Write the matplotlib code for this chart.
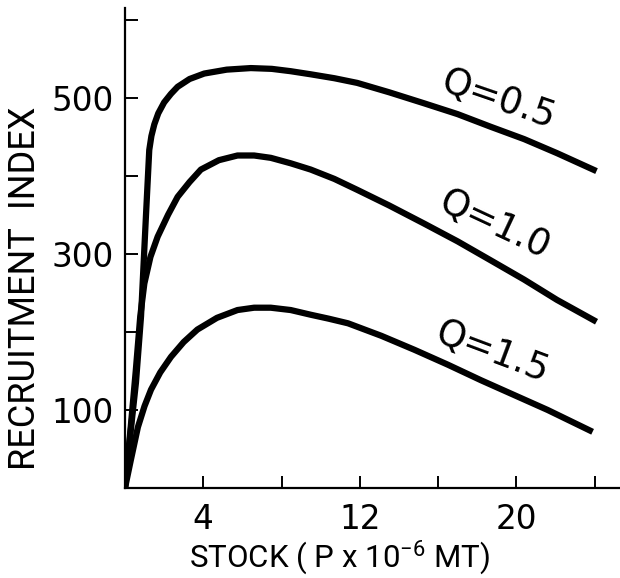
#Recruitment vs stock curves for three Q values
import matplotlib
matplotlib.use('Agg')
import matplotlib.pyplot as plt

plt.rcParams['font.family'] = ['Roboto', 'DejaVu Sans']
plt.rcParams['mathtext.fontset'] = 'custom'
plt.rcParams['mathtext.rm'] = 'Roboto'

#Values (stock, recruitment index)
stock_q05 = [0, 0.3, 0.56, 0.82, 1.07, 1.24, 1.35, 1.5, 1.7, 2.0, 2.35, 2.69, 3.3, 4.05, 5.2, 6.43,
             7.5, 8.47, 9.5, 10.7, 11.87, 13.5, 15.27, 17.0, 18.67, 20.4, 22.08, 24.1]
recr_q05 = [0, 75, 135, 220, 348, 433, 451, 466, 480, 494, 505, 514, 524, 531, 536, 538,
            537, 534, 530, 525, 519, 507, 493, 479, 463, 447, 429, 406]

stock_q10 = [0, 0.3, 0.55, 0.78, 0.99, 1.3, 1.67, 2.2, 2.69, 3.3, 3.88, 4.8, 5.75, 6.6, 7.45,
             8.47, 9.49, 10.7, 11.87, 13.5, 15.27, 17.0, 18.67, 20.4, 22.08, 24.1]
recr_q10 = [0, 80, 150, 220, 262, 296, 322, 350, 373, 392, 408, 420, 426, 426, 423,
            416, 408, 396, 382, 362, 339, 316, 292, 267, 241, 213]

stock_q15 = [0, 0.3, 0.66, 1.0, 1.33, 1.8, 2.35, 3.0, 3.7, 4.7, 5.75, 6.6, 7.45, 8.47, 9.49,
             10.4, 11.4, 13.1, 14.8, 16.5, 18.2, 19.9, 21.6, 23.9]
recr_q15 = [0, 36, 78, 105, 126, 148, 168, 187, 203, 218, 228, 231, 231, 228, 222,
            217, 211, 195, 177, 158, 138, 119, 100, 72]

curve_labels = ['Q=0.5', 'Q=1.0', 'Q=1.5']
label_x = [19.1, 18.9, 18.8]
label_y = [497, 337, 174]
label_rot = [-19, -25, -20.5]

fig = plt.figure(figsize=(6.2, 5.78), dpi=100)
ax = fig.add_axes([0.2016, 0.1557, 0.7984, 0.8305])

for xs, ys in [(stock_q05, recr_q05), (stock_q10, recr_q10), (stock_q15, recr_q15)]:
    ax.plot(xs, ys, color='black', lw=4.5, solid_joinstyle='round', solid_capstyle='butt')

for txt, lx, ly, rot in zip(curve_labels, label_x, label_y, label_rot):
    ax.text(lx, ly, txt, fontsize=26.5, rotation=rot, ha='center', va='center',
            family='DejaVu Sans', rotation_mode='anchor')

ax.set_xlim(0, 25.3)
ax.set_ylim(0, 615)
ax.spines['top'].set_visible(False)
ax.spines['right'].set_visible(False)
ax.spines['left'].set_linewidth(1.6)
ax.spines['bottom'].set_linewidth(1.6)

ax.set_xticks([4, 8, 12, 16, 20, 24])
ax.set_xticklabels(['4', '', '12', '', '20', ''])
ax.set_yticks([100, 200, 300, 400, 500, 600])
ax.set_yticklabels(['100', '', '300', '', '500', ''])
ax.tick_params(axis='both', direction='in', length=9, width=1.4, labelsize=23.5)
ax.tick_params(axis='x', pad=11)
ax.tick_params(axis='y', pad=8)
for lab in ax.get_xticklabels() + ax.get_yticklabels():
    lab.set_family('DejaVu Sans')

fig.text(0.547, 0.019, r'STOCK ( P x 10$^{-6}$ MT)', fontsize=22.5, ha='center', va='baseline')
fig.text(0.04, 0.502, 'RECRUITMENT  INDEX', fontsize=26, rotation=90, ha='center', va='center')

plt.savefig('out.png', dpi=100)
